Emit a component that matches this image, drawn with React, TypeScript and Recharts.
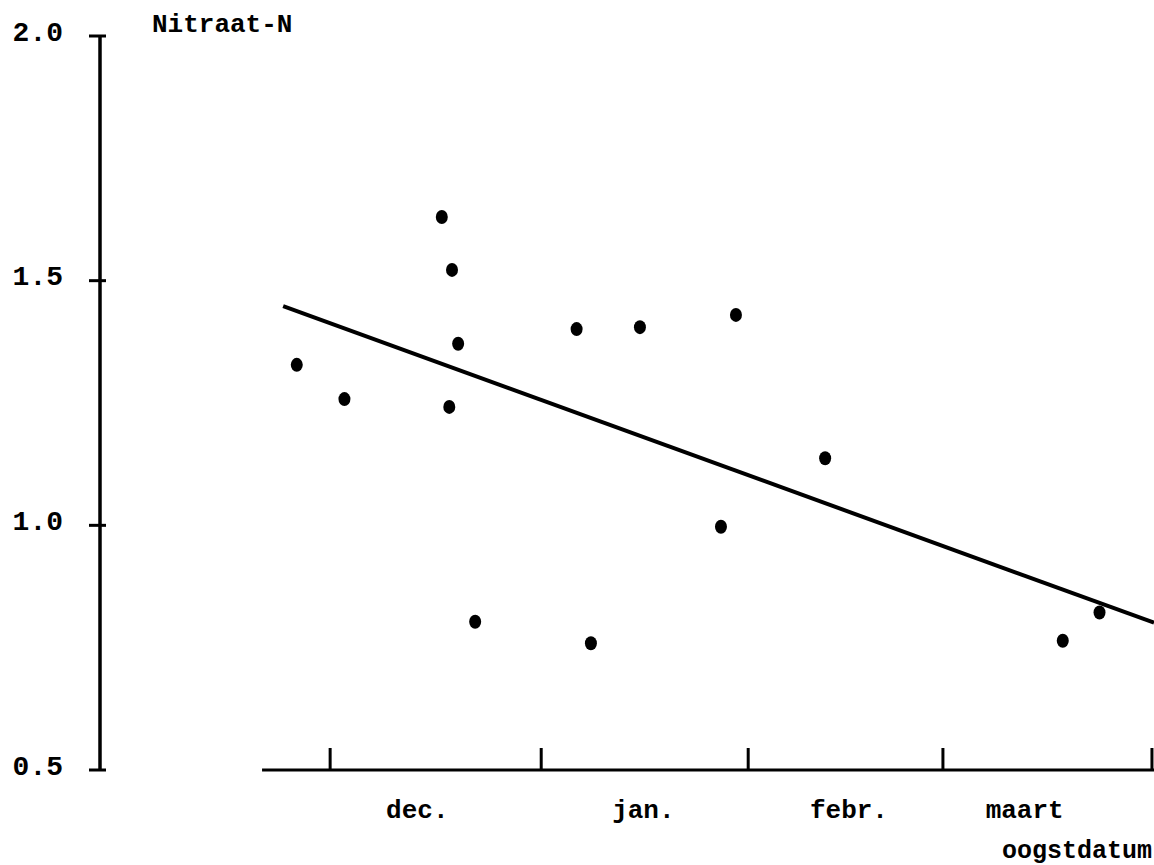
import React from "react";
import { ReferenceLine, Scatter, ScatterChart, XAxis, YAxis } from "recharts";

// harvest date as days after 1 December, nitrate-N content
const harvestDay = [-4.9, 2.1, 16.4, 17.9, 18.8, 17.5, 21.3, 36.2, 38.3, 45.5, 57.4, 59.6, 72.7, 107.6, 113.0];
const nitrate = [1.328, 1.258, 1.63, 1.522, 1.371, 1.242, 0.803, 1.401, 0.759, 1.405, 0.997, 1.43, 1.137, 0.764, 0.822];

const trendDay = [-6.9, 121];
const trendValue = [1.448, 0.801];

const monthStart = [0, 31, 61.4, 90, 120.7];
const monthLabels = ["dec.", "jan.", "febr.", "maart"];
const monthLabelDay = [12.8, 46.0, 76.2, 102.0];

const yTicks = [0.5, 1.0, 1.5, 2.0];
const axisStart = -10;

const FONT = '"Liberation Mono", "DejaVu Sans Mono", monospace';

const points = harvestDay.map((day, i) => ({ day, value: nitrate[i] }));
const trend = trendDay.map((day, i) => ({ day, value: trendValue[i] }));
const xTicks = [...monthStart, ...monthLabelDay].sort((a, b) => a - b);

function Dot(props: any) {
  const { cx, cy } = props;
  if (cx == null || cy == null) return <g />;
  return <ellipse cx={cx} cy={cy} rx={6} ry={7} fill="#000" />;
}

function XTick(props: any) {
  const { x, y, payload } = props;
  const v = payload.value;
  const idx = monthLabelDay.indexOf(v);
  if (idx >= 0) {
    return (
      <text x={x} y={y + 48} textAnchor="middle" fontFamily={FONT} fontWeight="bold" fontSize={26} fill="#000">
        {monthLabels[idx]}
      </text>
    );
  }
  return <line x1={x} x2={x} y1={y - 22} y2={y} stroke="#000" strokeWidth={3} />;
}

function YTick(props: any) {
  const { x, y, payload } = props;
  return (
    <g>
      <line x1={x - 11} x2={x + 6} y1={y} y2={y} stroke="#000" strokeWidth={3} />
      <text
        x={63}
        y={y - 3}
        textAnchor="end"
        dominantBaseline="central"
        fontFamily={FONT}
        fontWeight="bold"
        fontSize={28}
        fill="#000"
      >
        {payload.value.toFixed(1)}
      </text>
    </g>
  );
}

export default function App() {
  return (
    <div style={{ position: "absolute", left: 0, top: 0, width: 1154, height: 865, background: "#fff" }}>
      <ScatterChart width={1154} height={865} margin={{ top: 36, right: 0, bottom: 0, left: 0 }}>
        <XAxis
          type="number"
          dataKey="day"
          domain={[-33.8, 121]}
          ticks={xTicks}
          interval={0}
          height={95}
          axisLine={false}
          tickLine={false}
          tickSize={0}
          tickMargin={0}
          tick={<XTick />}
          label={{
            content: ({ viewBox }: any) => (
              <text
                x={viewBox.x + viewBox.width - 2}
                y={viewBox.y + 88}
                textAnchor="end"
                fontFamily={FONT}
                fontWeight="bold"
                fontSize={25}
                fill="#000"
              >
                oogstdatum
              </text>
            ),
          }}
        />
        <YAxis
          type="number"
          dataKey="value"
          domain={[0.5, 2.0]}
          ticks={yTicks}
          interval={0}
          width={100}
          axisLine={{ stroke: "#000", strokeWidth: 3.5 }}
          tickLine={false}
          tickSize={0}
          tickMargin={0}
          tick={<YTick />}
          label={{
            content: ({ viewBox }: any) => (
              <text x={152} y={viewBox.y - 4} fontFamily={FONT} fontWeight="bold" fontSize={26} fill="#000">
                Nitraat-N
              </text>
            ),
          }}
        />
        <ReferenceLine
          segment={[
            { x: axisStart, y: 0.5 },
            { x: 121, y: 0.5 },
          ]}
          stroke="#000"
          strokeWidth={3}
          ifOverflow="visible"
        />
        <Scatter
          data={trend}
          line={{ stroke: "#000", strokeWidth: 4 }}
          shape={() => <g />}
          isAnimationActive={false}
        />
        <Scatter data={points} shape={<Dot />} isAnimationActive={false} />
      </ScatterChart>
    </div>
  );
}
